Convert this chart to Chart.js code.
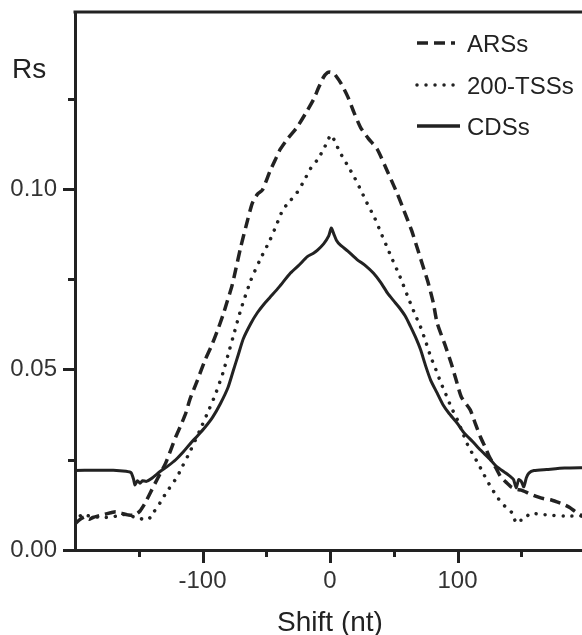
<!DOCTYPE html>
<html><head><meta charset="utf-8">
<script src="https://cdn.jsdelivr.net/npm/chart.js@4/dist/chart.umd.min.js"></script>
<style>
html,body{margin:0;padding:0;overflow:hidden;background:#fff;}
#wrap{width:587px;height:635px;position:relative;}
</style></head><body>
<div id="wrap"><canvas id="c"></canvas></div>
<script>
const seriesNames = ['ARSs', '200-TSSs', 'CDSs'];
const xTitle = 'Shift (nt)';
const yTitle = 'Rs';

const arsShift = [-200,-196,-192,-189,-186,-179,-172,-168,-164,-158,-153,-149,-145,-141,-137,-133,-129,-125,-121,-117,-113,-110,-104,-98,-93,-88,-84,-81,-77,-74,-70,-66,-61,-57,-53,-47,-43,-39,-33,-26,-19,-13,-9,-5,-2,0,2,4,9,14,19,24,30,37,43,48,53,58,64,69,73,77,81,84,90,95,99,103,110,114,118,122,125,130,134,138,142,146,150,156,163,168,173,178,184,188,191,195,200];
const arsRs = [0.0072,0.0085,0.0092,0.0085,0.0090,0.0097,0.0103,0.0106,0.0102,0.0097,0.0097,0.0108,0.0130,0.0158,0.0186,0.0213,0.0240,0.0276,0.0313,0.0345,0.0380,0.0416,0.0470,0.0526,0.0565,0.0610,0.0650,0.0684,0.0730,0.0776,0.0839,0.0895,0.0960,0.0985,0.0997,0.1050,0.1080,0.1110,0.1140,0.1170,0.1210,0.1247,0.1280,0.1310,0.1322,0.1324,0.1322,0.1316,0.1290,0.1255,0.1210,0.1170,0.1140,0.1110,0.1065,0.1025,0.0985,0.0940,0.0885,0.0830,0.0785,0.0740,0.0685,0.0629,0.0570,0.0518,0.0470,0.0424,0.0388,0.0350,0.0313,0.0283,0.0258,0.0228,0.0202,0.0188,0.0175,0.0168,0.0166,0.0157,0.0147,0.0142,0.0139,0.0133,0.0125,0.0118,0.0110,0.0100,0.0090];

const tssShift = [-200,-197,-194,-190,-185,-178,-170,-163,-158,-154,-150,-147,-144,-141,-139,-135,-132,-127,-120,-116,-110,-102,-95,-90,-84,-80,-76,-70,-62,-55,-47,-42,-37,-31,-26,-20,-15,-10,-5,-1,1,4,8,13,19,24,29,35,40,44,48,55,63,67,71,75,79,83,87,91,95,100,104,108,112,116,121,126,130,134,139,143,146,149,152,155,157,163,171,184,200];
const tssRs = [0.0075,0.0090,0.0100,0.0095,0.0092,0.0090,0.0092,0.0098,0.0097,0.0092,0.0090,0.0085,0.0083,0.0090,0.0102,0.0120,0.0139,0.0166,0.0202,0.0230,0.0271,0.0332,0.0388,0.0430,0.0490,0.0540,0.0590,0.0665,0.0748,0.0803,0.0859,0.0900,0.0942,0.0968,0.0989,0.1025,0.1058,0.1080,0.1110,0.1140,0.1150,0.1130,0.1100,0.1070,0.1033,0.0998,0.0961,0.0920,0.0878,0.0845,0.0812,0.0756,0.0684,0.0650,0.0618,0.0578,0.0535,0.0500,0.0463,0.0430,0.0396,0.0360,0.0325,0.0291,0.0265,0.0241,0.0207,0.0175,0.0153,0.0133,0.0115,0.0102,0.0075,0.0082,0.0083,0.0095,0.0102,0.0100,0.0097,0.0094,0.0094];

const cdsShift = [-200,-185,-170,-160,-156,-154,-153,-151,-149,-147,-144,-140,-133,-127,-121,-115,-110,-104,-98,-92,-86,-80,-76,-72,-68,-62,-57,-52,-47,-40,-31,-24,-18,-13,-10,-5,-1,1,3,5,8,14,21,28,34,40,45,50,54,59,63,67,71,75,79,84,89,93,100,105,112,118,125,131,137,142,144,146,148,150,152,154,156,160,170,184,200];
const cdsRs = [0.0220,0.0221,0.0221,0.0218,0.0214,0.0195,0.0180,0.0192,0.0185,0.0192,0.0190,0.0198,0.0218,0.0233,0.0250,0.0272,0.0293,0.0316,0.0340,0.0368,0.0405,0.0450,0.0495,0.0540,0.0585,0.0628,0.0657,0.0680,0.0700,0.0728,0.0767,0.0790,0.0812,0.0822,0.0830,0.0848,0.0870,0.0892,0.0875,0.0858,0.0845,0.0828,0.0805,0.0787,0.0767,0.0740,0.0712,0.0690,0.0673,0.0648,0.0620,0.0590,0.0555,0.0510,0.0470,0.0435,0.0400,0.0380,0.0350,0.0325,0.0300,0.0277,0.0253,0.0230,0.0215,0.0202,0.0195,0.0172,0.0195,0.0190,0.0175,0.0200,0.0213,0.0220,0.0223,0.0227,0.0228];

const xMajorTicks = [-100, 0, 100];
const xMinorTicks = [-150, -50, 50, 150];
const yMajorTicks = [0, 0.05, 0.10];
const yMinorTicks = [0.025, 0.075, 0.125];

const INK = '#222';
const FONT = '"Liberation Sans", Arial, sans-serif';
const dashStyles = [[11, 6], [0.01, 9], []];

function pts(xs, ys) { return xs.map((v, i) => ({x: v, y: ys[i]})); }
function noPad(s) { s.paddingTop = 0; s.paddingBottom = 0; s.paddingLeft = 0; s.paddingRight = 0; }

const decor = {
  id: 'decor',
  afterDraw(chart) {
    const {ctx, chartArea: a, scales: {x, y}} = chart;
    ctx.save();
    ctx.strokeStyle = INK; ctx.lineWidth = 3; ctx.lineCap = 'butt';
    ctx.beginPath(); ctx.moveTo(a.left - 1.5, a.top); ctx.lineTo(chart.width, a.top); ctx.stroke();
    const xt = (v, len) => { const p = Math.round(x.getPixelForValue(v)) + 0.5; ctx.beginPath(); ctx.moveTo(p, a.bottom); ctx.lineTo(p, a.bottom + len); ctx.stroke(); };
    xMajorTicks.forEach(v => xt(v, 13));
    xMinorTicks.forEach(v => xt(v, 7));
    const yt = (v, len) => { const p = Math.round(y.getPixelForValue(v)) + 0.5; ctx.beginPath(); ctx.moveTo(a.left, p); ctx.lineTo(a.left - len, p); ctx.stroke(); };
    yMajorTicks.forEach(v => yt(v, 12));
    yMinorTicks.forEach(v => yt(v, 7));
    ctx.fillStyle = INK;
    ctx.font = '28px ' + FONT;
    ctx.textBaseline = 'alphabetic';
    ctx.textAlign = 'left';
    ctx.fillText(yTitle, 12, 78);
    ctx.textAlign = 'center';
    ctx.fillText(xTitle, x.getPixelForValue(0), 631);
    const rows = [43, 85, 126];
    const sampleEnd = [455, 455, 460];
    ctx.font = '24px ' + FONT;
    ctx.textAlign = 'left';
    seriesNames.forEach((n, i) => {
      ctx.save();
      ctx.lineWidth = 3.5;
      ctx.setLineDash(dashStyles[i]);
      ctx.lineCap = i === 1 ? 'round' : 'butt';
      ctx.beginPath(); ctx.moveTo(417, rows[i]); ctx.lineTo(sampleEnd[i], rows[i]); ctx.stroke();
      ctx.restore();
      ctx.fillText(n, 467, rows[i] + 8.5);
    });
    ctx.restore();
  }
};

new Chart(document.getElementById('c'), {
  type: 'line',
  data: {
    datasets: [
      {label: seriesNames[0], data: pts(arsShift, arsRs), borderColor: INK, borderWidth: 3.5, borderDash: dashStyles[0], pointRadius: 0, tension: 0.2, fill: false},
      {label: seriesNames[1], data: pts(tssShift, tssRs), borderColor: INK, borderWidth: 3.5, borderDash: dashStyles[1], borderCapStyle: 'round', pointRadius: 0, tension: 0.2, fill: false},
      {label: seriesNames[2], data: pts(cdsShift, cdsRs), borderColor: INK, borderWidth: 3, borderDash: dashStyles[2], pointRadius: 0, tension: 0.2, fill: false}
    ]
  },
  options: {
    responsive: true, maintainAspectRatio: false, animation: false,
    layout: {padding: {top: 12, right: 2, left: 0, bottom: 0}},
    plugins: {legend: {display: false}, tooltip: {enabled: false}},
    scales: {
      x: {
        type: 'linear', min: -200, max: 200,
        grid: {display: false, drawTicks: false},
        border: {display: true, width: 3, color: INK},
        afterFit: s => { s.height = 85; noPad(s); },
        afterBuildTicks: s => { s.ticks = xMajorTicks.map(v => ({value: v})); },
        ticks: {autoSkip: false, maxRotation: 0, padding: 17, color: '#333', font: {family: FONT, size: 24}, callback: v => String(v)}
      },
      y: {
        type: 'linear', min: 0, max: 0.149,
        grid: {display: false, drawTicks: false},
        border: {display: true, width: 3, color: INK},
        afterFit: s => { s.width = 75; noPad(s); },
        afterBuildTicks: s => { s.ticks = yMajorTicks.map(v => ({value: v})); },
        ticks: {autoSkip: false, padding: 18, color: '#333', font: {family: FONT, size: 24}, callback: v => v.toFixed(2)}
      }
    }
  },
  plugins: [decor]
});
</script>
</body></html>
